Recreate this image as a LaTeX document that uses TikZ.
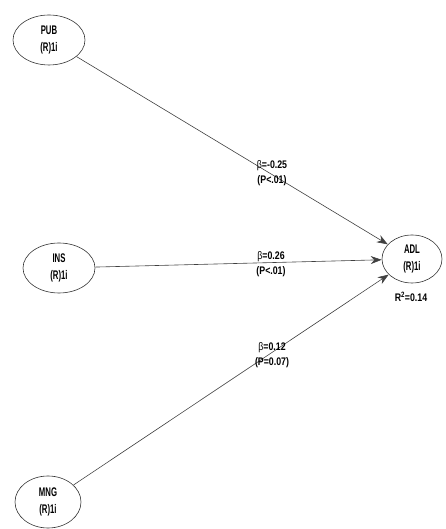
\documentclass[tikz,border=0pt]{standalone}
\usepackage{fontspec}
\setmainfont{Liberation Sans}
\usetikzlibrary{shapes.geometric,arrows.meta}
\newcommand{\nodetxt}[1]{\scalebox{0.62}[1]{\bfseries #1}}
\newcommand{\labtxt}[1]{\scalebox{0.8}[1]{\bfseries #1}}
\newcommand{\bet}{{\mdseries β}}
\begin{document}
\begin{tikzpicture}[x=1pt,y=1pt,
  latent/.style={ellipse,draw=black!80,line width=0.6pt,inner sep=0pt,
    font=\fontsize{12.5}{17}\selectfont,align=center},
  coef/.style={inner sep=0pt,font=\fontsize{11}{15}\selectfont,align=center},
  path/.style={draw=black!75,line width=0.6pt,-{Stealth[length=11pt,width=8pt]}}]
\useasboundingbox (0,0) rectangle (445,529);
\node[latent,minimum width=72,minimum height=50] (PUB) at (49,489) {\nodetxt{PUB}\\\nodetxt{(R)1i}};
\node[latent,minimum width=72,minimum height=50] (INS) at (59,261) {\nodetxt{INS}\\\nodetxt{(R)1i}};
\node[latent,minimum width=66,minimum height=52] (MNG) at (48,27) {\nodetxt{MNG}\\\nodetxt{(R)1i}};
\node[latent,minimum width=60,minimum height=48] (ADL) at (412,270) {\nodetxt{ADL}\\\nodetxt{(R)1i}};
\path[path] (PUB) -- (ADL);
\path[path] (INS) -- (ADL);
\path[path] (MNG) -- (ADL);
\node[coef] (c1) at (272,356) {\labtxt{\bet=-0.25}\\\labtxt{(P<.01)}};
\node[coef] (c2) at (271,265) {\labtxt{\bet=0.26}\\\labtxt{(P<.01)}};
\node[coef] (c3) at (272,174) {\labtxt{\bet=0.12}\\\labtxt{(P=0.07)}};
\node[coef] (r2) at (411,232) {\labtxt{R\textsuperscript{2}=0.14}};
\end{tikzpicture}
\end{document}
